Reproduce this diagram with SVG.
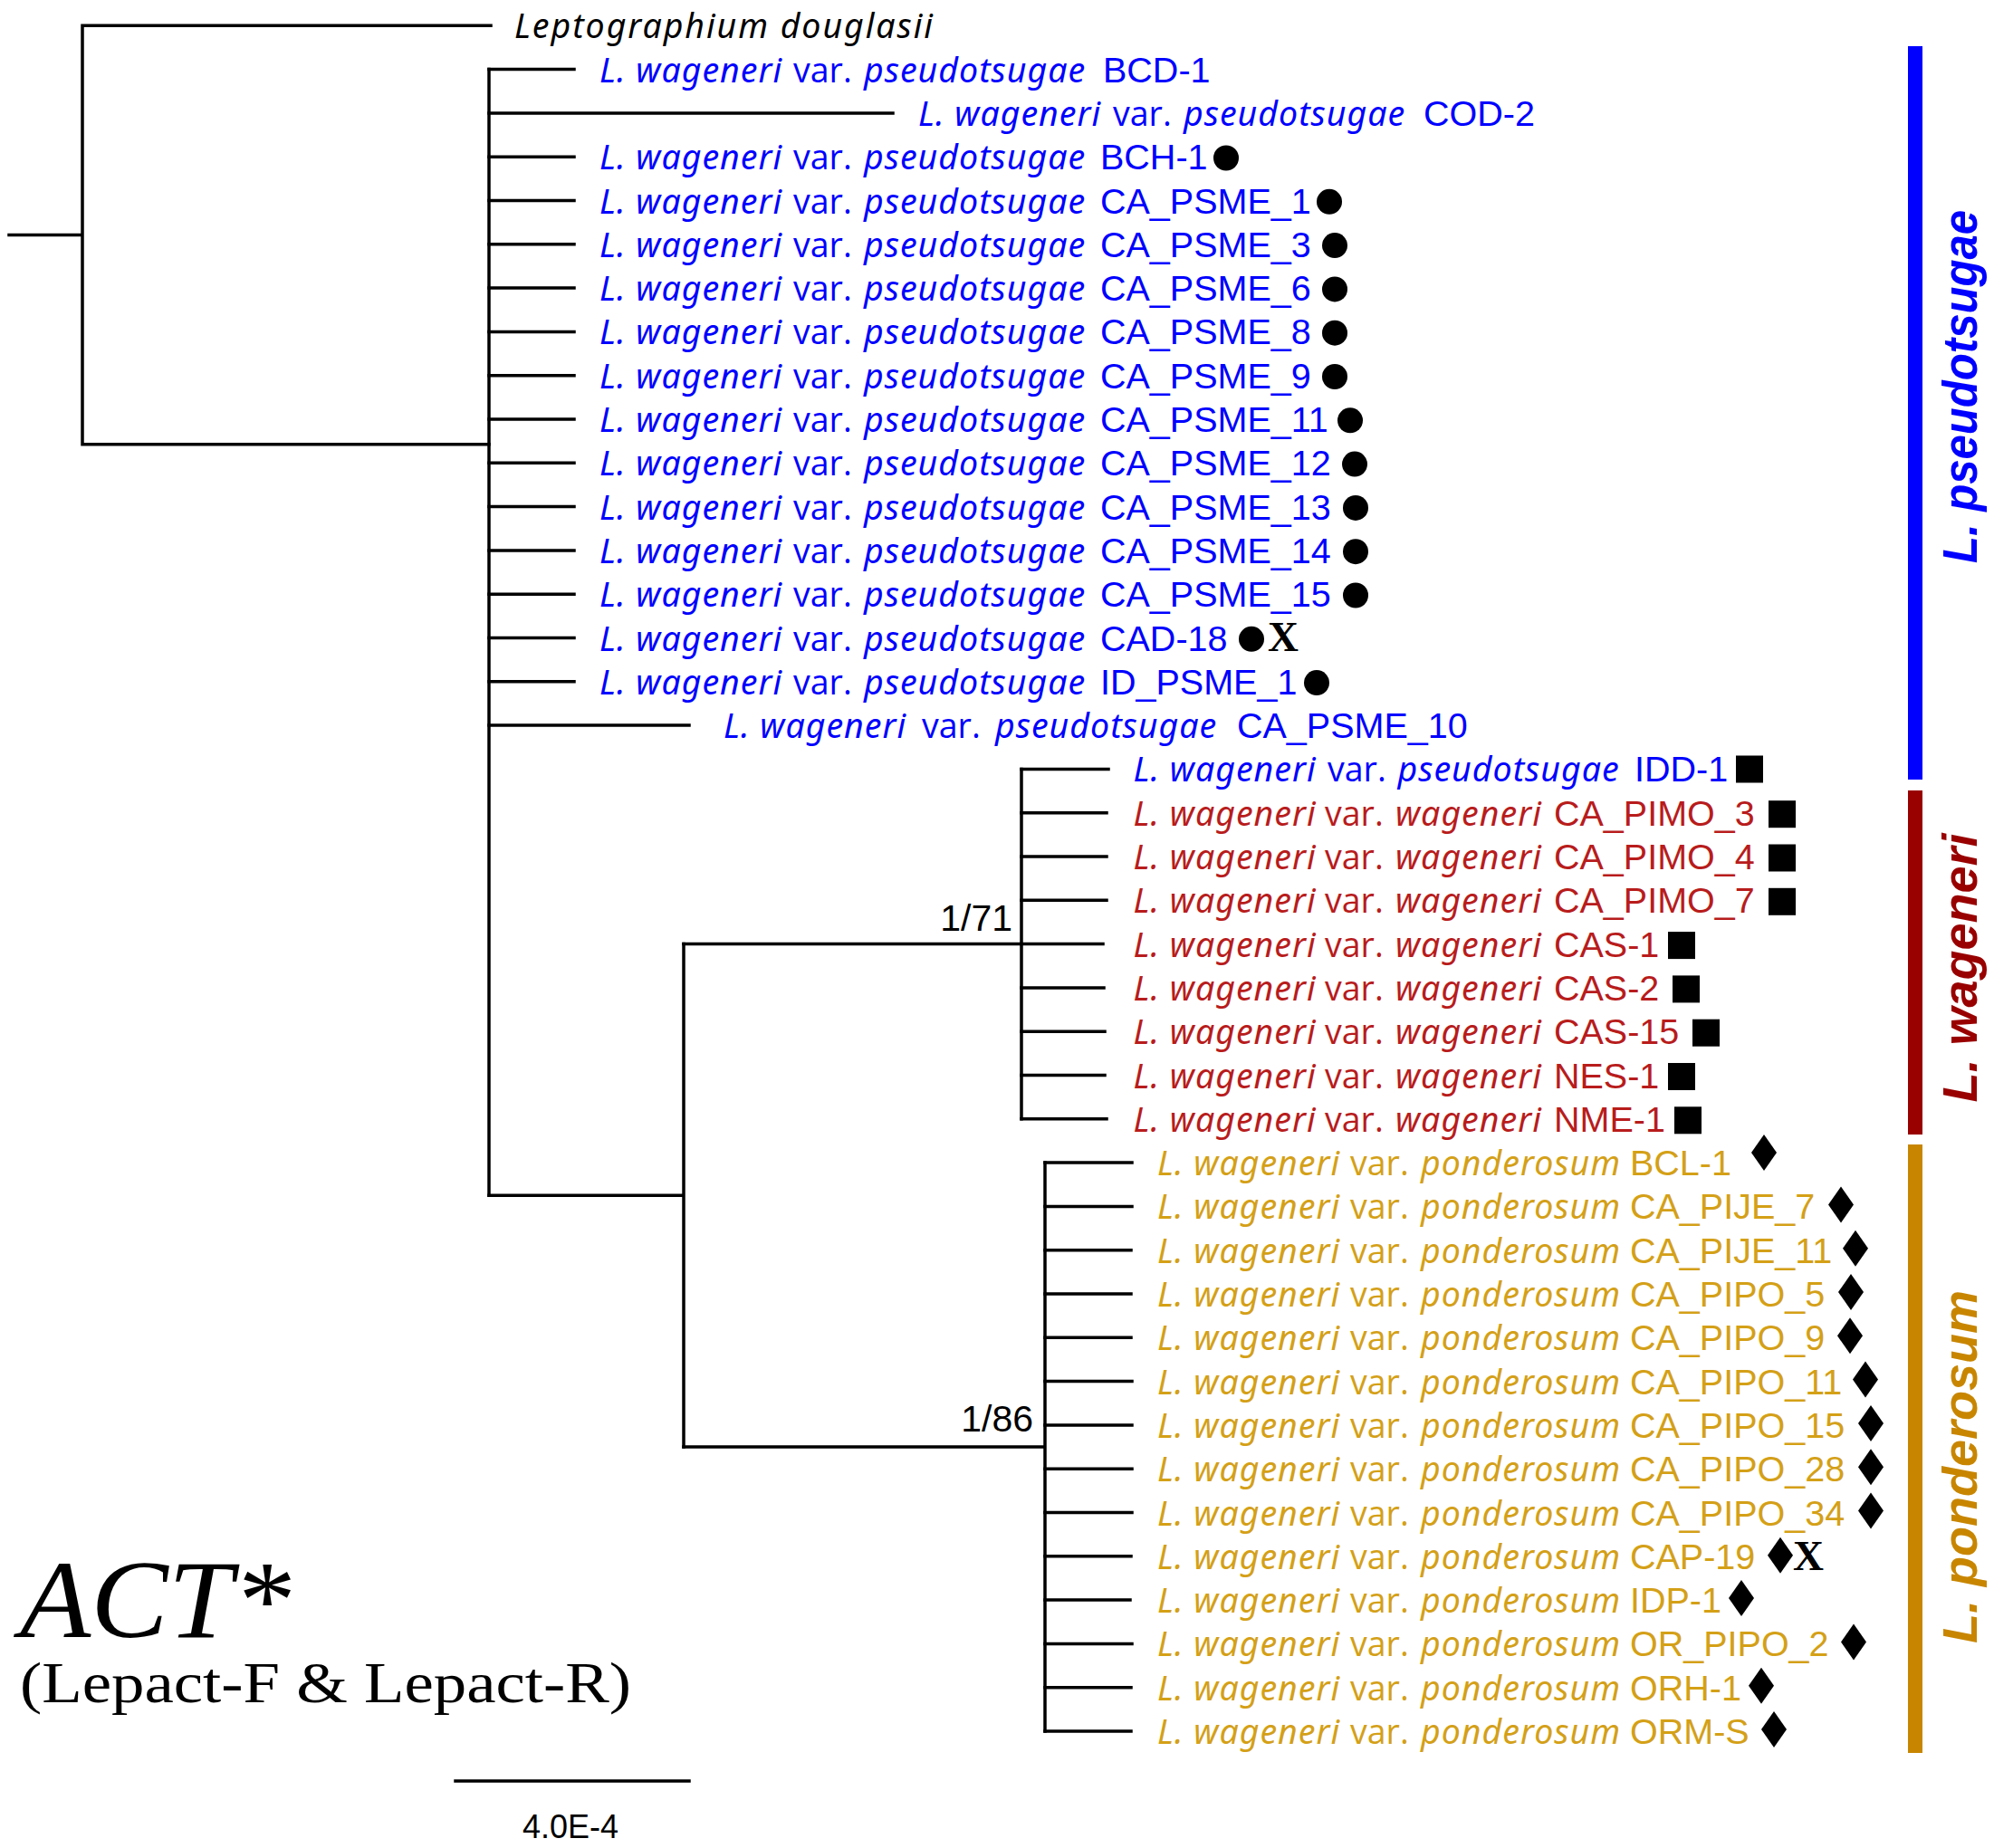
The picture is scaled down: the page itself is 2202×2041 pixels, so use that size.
<svg xmlns="http://www.w3.org/2000/svg" xmlns:xlink="http://www.w3.org/1999/xlink" width="2202" height="2041" viewBox="0 0 2202 2041">
<style>
.sp{font-family:'Open Sans','Noto Sans',sans-serif;font-size:37.5px}
.it{font-style:italic;font-family:'Noto Sans','Open Sans',sans-serif;letter-spacing:1px}
.id{font-family:'Liberation Sans',Arial,sans-serif;font-size:39.5px;font-style:normal}
.blue{fill:#0000ff}.red{fill:#b81c1c}.gold{fill:#d4a017}.blk{fill:#000}
.br{stroke:#000;stroke-width:3.5;fill:none;stroke-linecap:square}
.xm{font-family:'Liberation Serif','Times New Roman',serif;font-size:47px;font-weight:bold;fill:#000;text-anchor:middle}
.sup{font-family:'Liberation Sans',Arial,sans-serif;font-size:41px;fill:#000;text-anchor:end}
.grp{font-family:'Liberation Sans',Arial,sans-serif;font-size:54px;font-weight:bold;font-style:italic;text-anchor:middle}
</style>
<defs>
<circle id="dot" r="14" fill="#000"/>
<rect id="sq" x="-15" y="-15" width="30" height="30" fill="#000"/>
<path id="dia" d="M0,-20 L14,0 L0,20 L-14,0 Z" fill="#000"/>
</defs>
<rect width="2202" height="2041" fill="#fff"/>
<g id="connectors" class="br">
<path d="M10,259.5 H91 M91,28.3 V490.7 M91,28.3 H542 M91,490.7 H540"/>
<path d="M540,76.6 V1320.3"/>
<path d="M540,76.6 H634 M540,124.9 H986 M540,173.2 H634 M540,221.5 H634 M540,269.8 H634 M540,318.1 H634 M540,366.4 H634 M540,414.7 H634 M540,463 H634 M540,511.3 H634 M540,559.6 H634 M540,607.9 H634 M540,656.2 H634 M540,704.5 H634 M540,752.8 H634 M540,801.1 H761"/>
<path d="M540,1320.3 H755 M755,1042.6 V1598.05"/>
<path d="M755,1042.6 H1128 M1128,849.4 V1235.8"/>
<path d="M1128,849.4 H1224 M1128,897.7 H1222 M1128,946 H1222 M1128,994.3 H1222 M1128,1042.6 H1218 M1128,1090.9 H1219 M1128,1139.2 H1220 M1128,1187.5 H1220 M1128,1235.8 H1222"/>
<path d="M755,1598.05 H1154 M1154,1284.1 V1912"/>
<path d="M1154,1284.1 H1250 M1154,1332.4 H1250 M1154,1380.7 H1249 M1154,1429 H1249 M1154,1477.3 H1249 M1154,1525.6 H1250 M1154,1573.9 H1250 M1154,1622.2 H1250 M1154,1670.5 H1250 M1154,1718.8 H1249 M1154,1767.1 H1248 M1154,1815.4 H1250 M1154,1863.7 H1249 M1154,1912 H1249"/>
<path d="M503,1967 H761"/>
</g>
<g id="support">
<text class="sup" x="1118" y="1028">1/71</text>
<text class="sup" x="1141" y="1581">1/86</text>
</g>
<g id="outgroup"><text class="sp blk" style="font-style:italic;font-family:'Noto Sans','Open Sans',sans-serif" x="568" y="42.3" textLength="462" lengthAdjust="spacing">Leptographium douglasii</text></g>
<g id="pseudotsugae-tips">
<g id="t1"><text class="sp blue" y="90.6"><tspan class="it" x="662">L. wageneri</tspan><tspan x="876">var.</tspan><tspan class="it" x="954">pseudotsugae</tspan><tspan class="id" x="1218">BCD-1</tspan></text></g>
<g id="t2"><text class="sp blue" y="138.9"><tspan class="it" x="1014">L. wageneri</tspan><tspan x="1229">var.</tspan><tspan class="it" x="1307">pseudotsugae</tspan><tspan class="id" x="1572">COD-2</tspan></text></g>
<g id="t3"><text class="sp blue" y="187.2"><tspan class="it" x="662">L. wageneri</tspan><tspan x="876">var.</tspan><tspan class="it" x="954">pseudotsugae</tspan><tspan class="id" x="1215">BCH-1</tspan></text><use href="#dot" x="1354" y="174.5"/></g>
<g id="t4"><text class="sp blue" y="235.5"><tspan class="it" x="662">L. wageneri</tspan><tspan x="876">var.</tspan><tspan class="it" x="954">pseudotsugae</tspan><tspan class="id" x="1215">CA_PSME_1</tspan></text><use href="#dot" x="1468" y="222.8"/></g>
<g id="t5"><text class="sp blue" y="283.8"><tspan class="it" x="662">L. wageneri</tspan><tspan x="876">var.</tspan><tspan class="it" x="954">pseudotsugae</tspan><tspan class="id" x="1215">CA_PSME_3</tspan></text><use href="#dot" x="1474" y="271.1"/></g>
<g id="t6"><text class="sp blue" y="332.1"><tspan class="it" x="662">L. wageneri</tspan><tspan x="876">var.</tspan><tspan class="it" x="954">pseudotsugae</tspan><tspan class="id" x="1215">CA_PSME_6</tspan></text><use href="#dot" x="1474" y="319.4"/></g>
<g id="t7"><text class="sp blue" y="380.4"><tspan class="it" x="662">L. wageneri</tspan><tspan x="876">var.</tspan><tspan class="it" x="954">pseudotsugae</tspan><tspan class="id" x="1215">CA_PSME_8</tspan></text><use href="#dot" x="1474" y="367.7"/></g>
<g id="t8"><text class="sp blue" y="428.7"><tspan class="it" x="662">L. wageneri</tspan><tspan x="876">var.</tspan><tspan class="it" x="954">pseudotsugae</tspan><tspan class="id" x="1215">CA_PSME_9</tspan></text><use href="#dot" x="1474" y="416"/></g>
<g id="t9"><text class="sp blue" y="477"><tspan class="it" x="662">L. wageneri</tspan><tspan x="876">var.</tspan><tspan class="it" x="954">pseudotsugae</tspan><tspan class="id" x="1215">CA_PSME_11</tspan></text><use href="#dot" x="1491" y="464.3"/></g>
<g id="t10"><text class="sp blue" y="525.3"><tspan class="it" x="662">L. wageneri</tspan><tspan x="876">var.</tspan><tspan class="it" x="954">pseudotsugae</tspan><tspan class="id" x="1215">CA_PSME_12</tspan></text><use href="#dot" x="1496" y="512.6"/></g>
<g id="t11"><text class="sp blue" y="573.6"><tspan class="it" x="662">L. wageneri</tspan><tspan x="876">var.</tspan><tspan class="it" x="954">pseudotsugae</tspan><tspan class="id" x="1215">CA_PSME_13</tspan></text><use href="#dot" x="1497" y="560.9"/></g>
<g id="t12"><text class="sp blue" y="621.9"><tspan class="it" x="662">L. wageneri</tspan><tspan x="876">var.</tspan><tspan class="it" x="954">pseudotsugae</tspan><tspan class="id" x="1215">CA_PSME_14</tspan></text><use href="#dot" x="1497" y="609.2"/></g>
<g id="t13"><text class="sp blue" y="670.2"><tspan class="it" x="662">L. wageneri</tspan><tspan x="876">var.</tspan><tspan class="it" x="954">pseudotsugae</tspan><tspan class="id" x="1215">CA_PSME_15</tspan></text><use href="#dot" x="1497" y="657.5"/></g>
<g id="t14"><text class="sp blue" y="718.5"><tspan class="it" x="662">L. wageneri</tspan><tspan x="876">var.</tspan><tspan class="it" x="954">pseudotsugae</tspan><tspan class="id" x="1215">CAD-18</tspan></text><use href="#dot" x="1382" y="705.8"/><text class="xm" x="1417" y="719">X</text></g>
<g id="t15"><text class="sp blue" y="766.8"><tspan class="it" x="662">L. wageneri</tspan><tspan x="876">var.</tspan><tspan class="it" x="954">pseudotsugae</tspan><tspan class="id" x="1215">ID_PSME_1</tspan></text><use href="#dot" x="1454" y="754.1"/></g>
<g id="t16"><text class="sp blue" y="815.1"><tspan class="it" x="799">L. wageneri</tspan><tspan x="1018">var.</tspan><tspan class="it" x="1099">pseudotsugae</tspan><tspan class="id" x="1366">CA_PSME_10</tspan></text></g>
</g>
<g id="wageneri-tips">
<g id="t17"><text class="sp blue" y="863.4"><tspan class="it" x="1251.5">L. wageneri</tspan><tspan x="1466">var.</tspan><tspan class="it" x="1543.5">pseudotsugae</tspan><tspan class="id" x="1805">IDD-1</tspan></text><use href="#sq" x="1932" y="849.5"/></g>
<g id="t18"><text class="sp red" y="911.7"><tspan class="it" x="1251.5">L. wageneri</tspan><tspan x="1463">var.</tspan><tspan class="it" x="1541">wageneri</tspan><tspan class="id" x="1716">CA_PIMO_3</tspan></text><use href="#sq" x="1968" y="899.2"/></g>
<g id="t19"><text class="sp red" y="960"><tspan class="it" x="1251.5">L. wageneri</tspan><tspan x="1463">var.</tspan><tspan class="it" x="1541">wageneri</tspan><tspan class="id" x="1716">CA_PIMO_4</tspan></text><use href="#sq" x="1968" y="947.5"/></g>
<g id="t20"><text class="sp red" y="1008.3"><tspan class="it" x="1251.5">L. wageneri</tspan><tspan x="1463">var.</tspan><tspan class="it" x="1541">wageneri</tspan><tspan class="id" x="1716">CA_PIMO_7</tspan></text><use href="#sq" x="1968" y="995.8"/></g>
<g id="t21"><text class="sp red" y="1056.6"><tspan class="it" x="1251.5">L. wageneri</tspan><tspan x="1463">var.</tspan><tspan class="it" x="1541">wageneri</tspan><tspan class="id" x="1716">CAS-1</tspan></text><use href="#sq" x="1857" y="1044.1"/></g>
<g id="t22"><text class="sp red" y="1104.9"><tspan class="it" x="1251.5">L. wageneri</tspan><tspan x="1463">var.</tspan><tspan class="it" x="1541">wageneri</tspan><tspan class="id" x="1716">CAS-2</tspan></text><use href="#sq" x="1862" y="1092.4"/></g>
<g id="t23"><text class="sp red" y="1153.2"><tspan class="it" x="1251.5">L. wageneri</tspan><tspan x="1463">var.</tspan><tspan class="it" x="1541">wageneri</tspan><tspan class="id" x="1716">CAS-15</tspan></text><use href="#sq" x="1884" y="1140.7"/></g>
<g id="t24"><text class="sp red" y="1201.5"><tspan class="it" x="1251.5">L. wageneri</tspan><tspan x="1463">var.</tspan><tspan class="it" x="1541">wageneri</tspan><tspan class="id" x="1716">NES-1</tspan></text><use href="#sq" x="1857" y="1189"/></g>
<g id="t25"><text class="sp red" y="1249.8"><tspan class="it" x="1251.5">L. wageneri</tspan><tspan x="1463">var.</tspan><tspan class="it" x="1541">wageneri</tspan><tspan class="id" x="1716">NME-1</tspan></text><use href="#sq" x="1864" y="1237.3"/></g>
</g>
<g id="ponderosum-tips">
<g id="t26"><text class="sp gold" y="1298.1"><tspan class="it" x="1278">L. wageneri</tspan><tspan x="1491">var.</tspan><tspan class="it" x="1569">ponderosum</tspan><tspan class="id" x="1800">BCL-1</tspan></text><use href="#dia" x="1948" y="1273"/></g>
<g id="t27"><text class="sp gold" y="1346.4"><tspan class="it" x="1278">L. wageneri</tspan><tspan x="1491">var.</tspan><tspan class="it" x="1569">ponderosum</tspan><tspan class="id" x="1800">CA_PIJE_7</tspan></text><use href="#dia" x="2033" y="1330.4"/></g>
<g id="t28"><text class="sp gold" y="1394.7"><tspan class="it" x="1278">L. wageneri</tspan><tspan x="1491">var.</tspan><tspan class="it" x="1569">ponderosum</tspan><tspan class="id" x="1800">CA_PIJE_11</tspan></text><use href="#dia" x="2049" y="1378.7"/></g>
<g id="t29"><text class="sp gold" y="1443"><tspan class="it" x="1278">L. wageneri</tspan><tspan x="1491">var.</tspan><tspan class="it" x="1569">ponderosum</tspan><tspan class="id" x="1800">CA_PIPO_5</tspan></text><use href="#dia" x="2044" y="1427"/></g>
<g id="t30"><text class="sp gold" y="1491.3"><tspan class="it" x="1278">L. wageneri</tspan><tspan x="1491">var.</tspan><tspan class="it" x="1569">ponderosum</tspan><tspan class="id" x="1800">CA_PIPO_9</tspan></text><use href="#dia" x="2043" y="1475.3"/></g>
<g id="t31"><text class="sp gold" y="1539.6"><tspan class="it" x="1278">L. wageneri</tspan><tspan x="1491">var.</tspan><tspan class="it" x="1569">ponderosum</tspan><tspan class="id" x="1800">CA_PIPO_11</tspan></text><use href="#dia" x="2060" y="1523.6"/></g>
<g id="t32"><text class="sp gold" y="1587.9"><tspan class="it" x="1278">L. wageneri</tspan><tspan x="1491">var.</tspan><tspan class="it" x="1569">ponderosum</tspan><tspan class="id" x="1800">CA_PIPO_15</tspan></text><use href="#dia" x="2066" y="1571.9"/></g>
<g id="t33"><text class="sp gold" y="1636.2"><tspan class="it" x="1278">L. wageneri</tspan><tspan x="1491">var.</tspan><tspan class="it" x="1569">ponderosum</tspan><tspan class="id" x="1800">CA_PIPO_28</tspan></text><use href="#dia" x="2066" y="1620.2"/></g>
<g id="t34"><text class="sp gold" y="1684.5"><tspan class="it" x="1278">L. wageneri</tspan><tspan x="1491">var.</tspan><tspan class="it" x="1569">ponderosum</tspan><tspan class="id" x="1800">CA_PIPO_34</tspan></text><use href="#dia" x="2066" y="1668.5"/></g>
<g id="t35"><text class="sp gold" y="1732.8"><tspan class="it" x="1278">L. wageneri</tspan><tspan x="1491">var.</tspan><tspan class="it" x="1569">ponderosum</tspan><tspan class="id" x="1800">CAP-19</tspan></text><use href="#dia" x="1966" y="1717.8"/><text class="xm" x="1997" y="1734">X</text></g>
<g id="t36"><text class="sp gold" y="1781.1"><tspan class="it" x="1278">L. wageneri</tspan><tspan x="1491">var.</tspan><tspan class="it" x="1569">ponderosum</tspan><tspan class="id" x="1800">IDP-1</tspan></text><use href="#dia" x="1923" y="1765.1"/></g>
<g id="t37"><text class="sp gold" y="1829.4"><tspan class="it" x="1278">L. wageneri</tspan><tspan x="1491">var.</tspan><tspan class="it" x="1569">ponderosum</tspan><tspan class="id" x="1800">OR_PIPO_2</tspan></text><use href="#dia" x="2047" y="1813.4"/></g>
<g id="t38"><text class="sp gold" y="1877.7"><tspan class="it" x="1278">L. wageneri</tspan><tspan x="1491">var.</tspan><tspan class="it" x="1569">ponderosum</tspan><tspan class="id" x="1800">ORH-1</tspan></text><use href="#dia" x="1945" y="1861.7"/></g>
<g id="t39"><text class="sp gold" y="1926"><tspan class="it" x="1278">L. wageneri</tspan><tspan x="1491">var.</tspan><tspan class="it" x="1569">ponderosum</tspan><tspan class="id" x="1800">ORM-S</tspan></text><use href="#dia" x="1959" y="1910"/></g>
</g>
<g id="group-bars">
<rect x="2107" y="51" width="16" height="810" fill="#0000ff"/>
<rect x="2107" y="873" width="16" height="380" fill="#990000"/>
<rect x="2107" y="1264" width="16" height="672" fill="#c88600"/>
<text class="grp" fill="#0000ff" transform="translate(2183,427) rotate(-90)" textLength="390" lengthAdjust="spacingAndGlyphs">L. pseudotsugae</text>
<text class="grp" fill="#990000" transform="translate(2183,1069) rotate(-90)">L. wageneri</text>
<text class="grp" fill="#c88600" transform="translate(2183,1620) rotate(-90)">L. ponderosum</text>
</g>
<g id="title">
<text x="22" y="1808" font-family="'Liberation Serif','Times New Roman',serif" font-size="122" font-style="italic" textLength="299" lengthAdjust="spacingAndGlyphs">ACT*</text>
<text x="22" y="1880" font-family="'Liberation Serif','Times New Roman',serif" font-size="64" textLength="675" lengthAdjust="spacingAndGlyphs">(Lepact-F &amp; Lepact-R)</text>
</g>
<g id="scale">
<text x="630" y="2030" font-family="'Liberation Sans',Arial,sans-serif" font-size="36" text-anchor="middle">4.0E-4</text>
</g>
</svg>
